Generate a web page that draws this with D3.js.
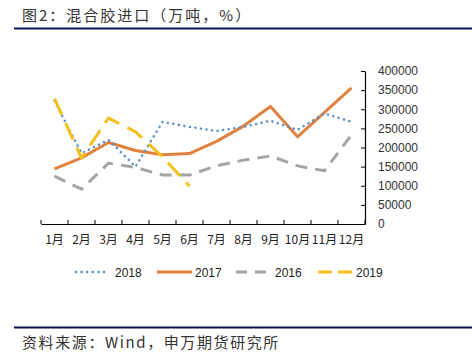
<!DOCTYPE html>
<html><head><meta charset="utf-8">
<script src="https://cdn.jsdelivr.net/npm/d3@7"></script>
<style>
body{margin:0;background:#fff;}
svg{display:block;}
</style></head>
<body>
<svg id="c" width="472" height="355"></svg>
<script>
const months = ["1月","2月","3月","4月","5月","6月","7月","8月","9月","10月","11月","12月"];
const s2018 = [322000,185000,220000,150000,267000,254000,243000,254000,270000,246000,289000,267000];
const s2017 = [144000,173000,213000,192000,181000,184000,216000,256000,307000,228000,292000,356000];
const s2016 = [125000,91000,159000,148000,128000,128000,152000,167000,178000,152000,139000,233000];
const s2019 = [328000,172000,277000,241000,176000,99000];
const yTicks = [0,50000,100000,150000,200000,250000,300000,350000,400000];
const seriesNames = ["2018","2017","2016","2019"];

const svg = d3.select("#c");
const cjk = "'Noto Sans CJK SC', sans-serif";
const lat = "'Liberation Sans', Arial, sans-serif";

// title
svg.append("text").attr("x",22).attr("y",21).attr("font-family",cjk).attr("font-size",15)
  .attr("letter-spacing",2).attr("fill","#333").text("图2：混合胶进口（万吨，%）");
svg.append("line").attr("x1",14).attr("x2",472).attr("y1",28.5).attr("y2",28.5)
  .attr("stroke","#0c1150").attr("stroke-width",2);

const x = d3.scaleBand().domain(months).range([41,365]);
const y = d3.scaleLinear().domain([0,400000]).range([224,71]);

// axes
const xAxis = svg.append("g").attr("transform","translate(0,224)")
  .call(d3.axisBottom(x).tickSize(0).tickSizeOuter(0));
xAxis.select(".domain").attr("stroke","#000").attr("stroke-width",1.2);
xAxis.selectAll("text").attr("font-family",cjk).attr("font-size",12).attr("fill","#222").attr("dy","0").attr("y",20);
// category boundary ticks (inside, upward)
svg.append("g").selectAll("line").data(months.concat(["end"])).join("line")
  .attr("x1",(d,i)=>41+i*x.step()).attr("x2",(d,i)=>41+i*x.step())
  .attr("y1",224).attr("y2",220).attr("stroke","#000").attr("stroke-width",1);

const yAxis = svg.append("g").attr("transform","translate(365,0)")
  .call(d3.axisRight(y).tickValues(yTicks).tickFormat(d3.format("d")).tickSize(0));
yAxis.select(".domain").attr("stroke","#000").attr("stroke-width",1.2);
yAxis.selectAll("text").attr("font-family",lat).attr("font-size",12).attr("fill","#333").attr("x",13);
yAxis.selectAll(".tick").append("line").attr("x1",0).attr("x2",-4).attr("stroke","#000");

const line = d3.line().x((d,i)=>x(months[i])+x.bandwidth()/2).y(d=>y(d));
const styles = [
  {data:s2016, color:"#a5a5a5", w:3, dash:"12,8"},
  {data:s2017, color:"#e0813f", w:3, dash:null},
  {data:s2018, color:"#5a8fc4", w:2.5, dash:"0.1,5.5", cap:"round"},
  {data:s2019, color:"#f5c01b", w:3, dash:"18,9"}
];
styles.forEach(s=>{
  svg.append("path").datum(s.data).attr("d",line).attr("fill","none")
    .attr("stroke",s.color).attr("stroke-width",s.w)
    .attr("stroke-dasharray",s.dash).attr("stroke-linecap",s.cap||"butt")
    .attr("stroke-linejoin","round");
});

// legend
const legY = 272;
const leg = [
  {name:seriesNames[0], x1:76, x2:109, tx:115, color:"#5a8fc4", w:2.5, dash:"0.1,5.5", cap:"round"},
  {name:seriesNames[1], x1:157, x2:192, tx:195, color:"#e0813f", w:3, dash:null},
  {name:seriesNames[2], x1:236, x2:270, tx:275, color:"#a5a5a5", w:3, dash:"11,8"},
  {name:seriesNames[3], x1:318, x2:352, tx:356, color:"#f5c01b", w:3, dash:"14,6"}
];
leg.forEach(l=>{
  svg.append("line").attr("x1",l.x1).attr("x2",l.x2).attr("y1",legY).attr("y2",legY)
    .attr("stroke",l.color).attr("stroke-width",l.w).attr("stroke-dasharray",l.dash)
    .attr("stroke-linecap",l.cap||"butt");
  svg.append("text").attr("x",l.tx).attr("y",legY+4.5).attr("font-family",lat).attr("font-size",12)
    .attr("fill","#222").text(l.name);
});

// source
svg.append("line").attr("x1",14).attr("x2",472).attr("y1",327.5).attr("y2",327.5)
  .attr("stroke","#0c1150").attr("stroke-width",2);
svg.append("text").attr("x",22).attr("y",348).attr("font-family",cjk).attr("font-size",15)
  .attr("letter-spacing",1.6).attr("fill","#333").text("资料来源：Wind，申万期货研究所");
</script>
</body></html>
